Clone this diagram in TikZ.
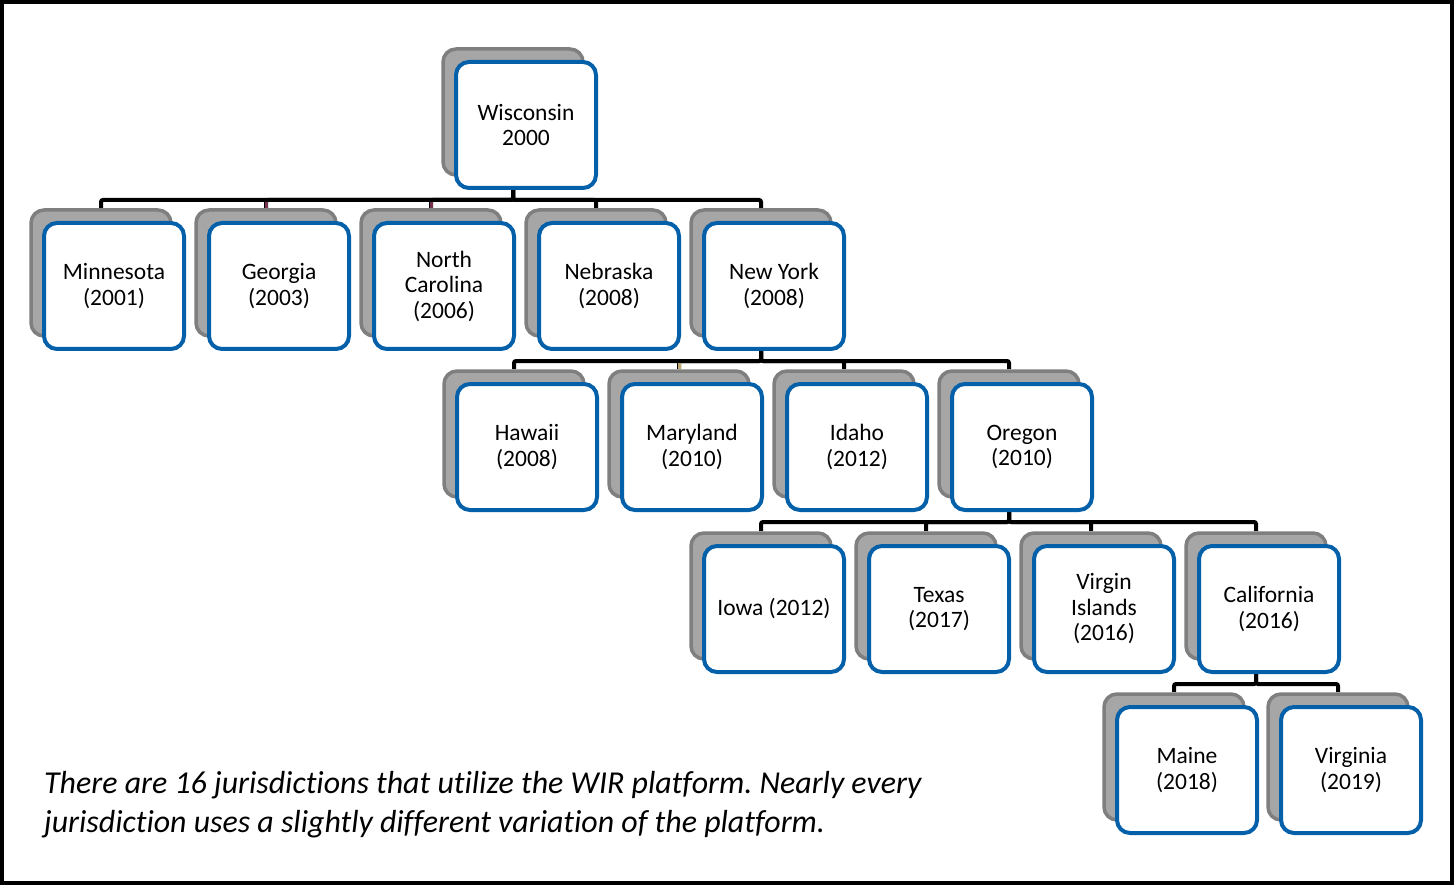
\documentclass[tikz,border=0pt]{standalone}
\usepackage{fontspec}
\setmainfont{Carlito}[Ligatures=NoCommon]
\frenchspacing
\usetikzlibrary{shadows,calc,backgrounds}
\definecolor{boxblue}{RGB}{5,96,170}
\definecolor{shfill}{RGB}{166,166,166}
\definecolor{shdraw}{RGB}{127,127,127}
\definecolor{oddmaroon}{RGB}{120,50,80}
\definecolor{oddtan}{RGB}{190,170,110}
\pgfdeclarelayer{back}
\pgfsetlayers{back,background,main}
\begin{document}
\begin{tikzpicture}[x=1pt,y=-1pt,
  jbox/.style={draw=boxblue, line width=4pt, fill=white, rounded corners=13pt,
    minimum width=140pt, minimum height=126pt, inner sep=2pt, align=center,
    font=\fontsize{23.5}{25.5}\selectfont,
    copy shadow={shadow xshift=-13pt, shadow yshift=13pt, fill=shfill, draw=shdraw, line width=3.5pt}},
  conn/.style={draw=black, line width=4pt, rounded corners=2pt},
  odd/.style={line width=3pt}]
\useasboundingbox (0,0) rectangle (1454,885);
\begin{pgfonlayer}{back}
  \fill[white] (0,0) rectangle (1454,885);
\end{pgfonlayer}
\draw[line width=4pt, black] (2,2) rectangle (1452,883);

% top
\node[jbox] (wis) at (526,125) {Wisconsin\\2000};
% row 1
\node[jbox] (min) at (114,286) {Minnesota\\(2001)};
\node[jbox] (geo) at (279,286) {Georgia\\(2003)};
\node[jbox] (nc)  at (444,286) {North\\Carolina\\(2006)};
\node[jbox] (neb) at (609,286) {Nebraska\\(2008)};
\node[jbox] (ny)  at (774,286) {New York\\(2008)};
% row 2
\node[jbox] (haw) at (527,447) {Hawaii\\(2008)};
\node[jbox] (mar) at (692,447) {Maryland\\(2010)};
\node[jbox] (ida) at (857,447) {Idaho\\(2012)};
\node[jbox] (ore) at (1022,447) {Oregon\\(2010)};
% row 3
\node[jbox] (iow) at (774,609) {Iowa (2012)};
\node[jbox] (tex) at (939,609) {Texas\\(2017)};
\node[jbox] (vi)  at (1104,609) {Virgin\\Islands\\(2016)};
\node[jbox] (cal) at (1269,609) {California\\(2016)};
% row 4
\node[jbox] (mai) at (1187,770) {Maine\\(2018)};
\node[jbox] (vir) at (1351,770) {Virginia\\(2019)};

\node[anchor=north west, inner sep=0pt, align=left,
  font=\itshape\fontsize{31.9}{39}\selectfont] (cap) at (44,771)
  {There are 16 jurisdictions that utilize the WIR platform. Nearly every\\
   jurisdiction uses a slightly different variation of the platform.};

\begin{scope}[on background layer]
  \foreach \c in {min,geo,nc,neb,ny}
    \draw[conn] ($(wis.south)+(-13,0)$) -- ++(0,10) -| ($(\c.north)+(-13,-13)$);
  \foreach \c in {haw,mar,ida,ore}
    \draw[conn] ($(ny.south)+(-13,0)$) -- ++(0,10) -| ($(\c.north)+(-13,-13)$);
  \foreach \c in {iow,tex,vi,cal}
    \draw[conn] ($(ore.south)+(-13,0)$) -- ++(0,10) -| ($(\c.north)+(-13,-13)$);
  \foreach \c in {mai,vir}
    \draw[conn] ($(cal.south)+(-13,0)$) -- ++(0,10) -| ($(\c.north)+(-13,-13)$);
  \draw[odd, oddmaroon] ($(geo.north)+(-13,-13)$) -- ++(0,-6);
  \draw[odd, oddmaroon] ($(nc.north)+(-13,-13)$) -- ++(0,-6);
  \draw[odd, oddtan] ($(mar.north)+(-13,-13)$) -- ++(0,-6);
\end{scope}
\end{tikzpicture}
\end{document}
